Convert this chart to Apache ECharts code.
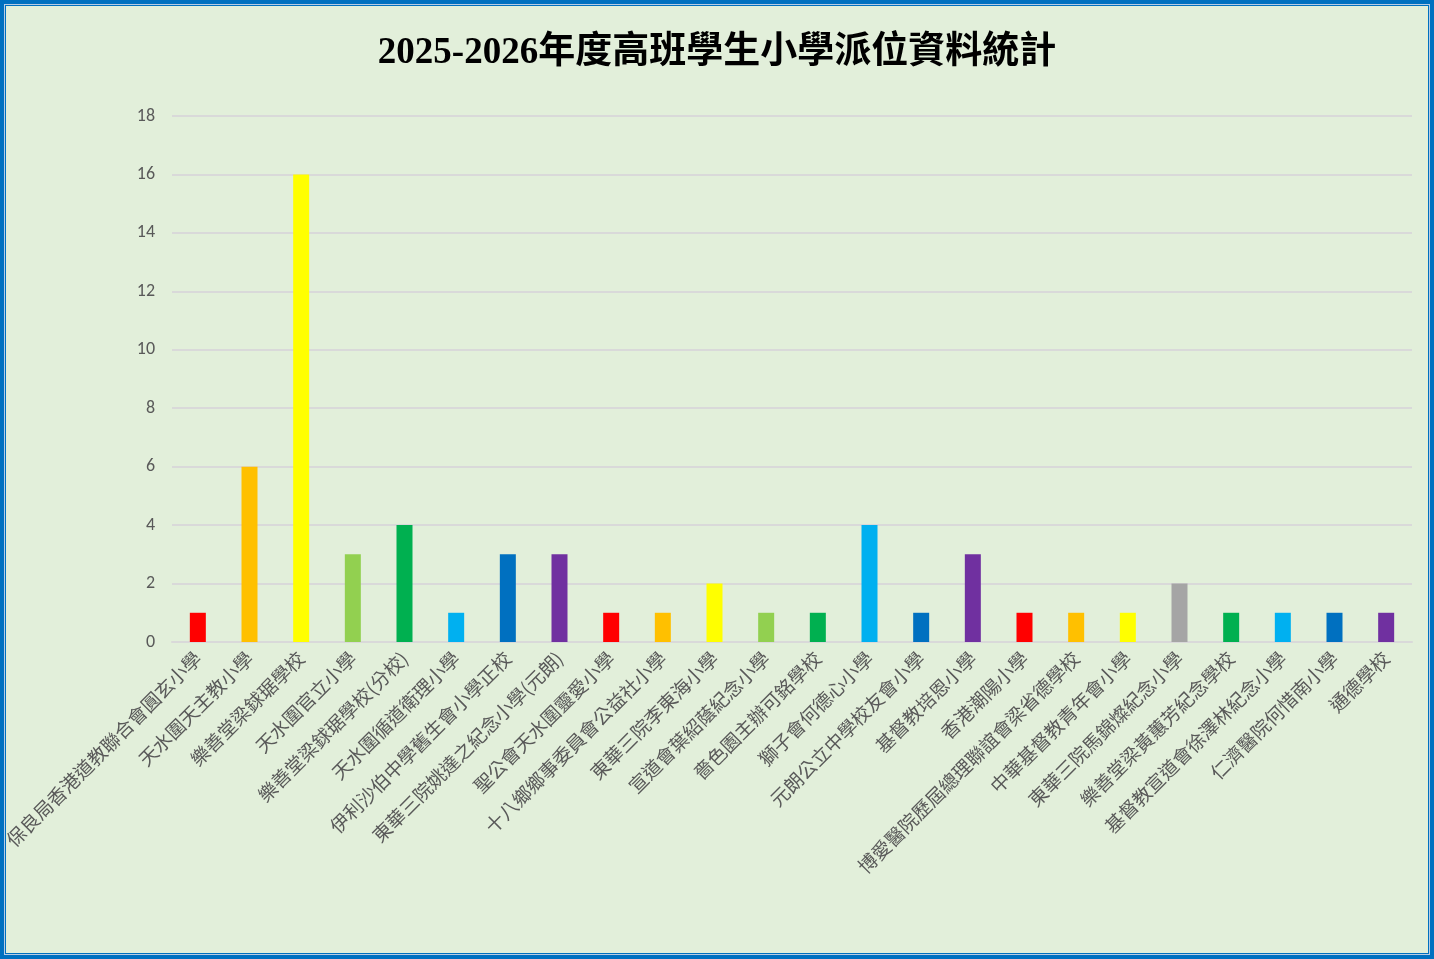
<!doctype html>
<html lang="zh-Hant">
<head>
    <meta charset="UTF-8">
    <title>2025-2026年度高班學生小學派位資料統計</title>
    <style>
        *{margin: 0; padding: 0}
        html, body {width: 1434px; height: 959px; overflow: hidden; background: #0070C0;}
        #frame {
            position: absolute; left: 0; top: 0; width: 1434px; height: 959px;
            box-sizing: border-box; border: 4px solid #0070C0; background: #B8CCE4;
        }
        #inner {
            position: absolute; left: 1px; top: 1px; right: 1px; bottom: 1px;
            border: 1px solid #0070C0; background: #E2EFDA;
        }
        #block {position: absolute; left: -6px; top: -6px; width: 1434px; height: 959px;}
    </style>
</head>
<body>
<div id="frame"><div id="inner"><div id="block"></div></div></div>

<script src="https://cdn.jsdelivr.net/npm/echarts@6/dist/echarts.min.js"></script>
<script>
    // 資料
    const schools = [
        '保良局香港道教聯合會圓玄小學', '天水圍天主教小學', '樂善堂梁銶琚學校', '天水圍官立小學',
        '樂善堂梁銶琚學校(分校)', '天水圍循道衛理小學', '伊利沙伯中學舊生會小學正校', '東華三院姚達之紀念小學(元朗)',
        '聖公會天水圍靈愛小學', '十八鄉鄉事委員會公益社小學', '東華三院李東海小學', '宣道會葉紹蔭紀念小學',
        '嗇色園主辦可銘學校', '獅子會何德心小學', '元朗公立中學校友會小學', '基督教培恩小學',
        '香港潮陽小學', '博愛醫院歷屆總理聯誼會梁省德學校', '中華基督教青年會小學', '東華三院馬錦燦紀念小學',
        '樂善堂梁黃蕙芳紀念學校', '基督教宣道會徐澤林紀念小學', '仁濟醫院何惜南小學', '通德學校'
    ];
    const counts = [1, 6, 16, 3, 4, 1, 3, 3, 1, 1, 2, 1, 1, 4, 1, 3, 1, 1, 1, 2, 1, 1, 1, 1];
    const barColors = [
        '#FF0000', '#FFC000', '#FFFF00', '#92D050', '#00B050', '#00B0F0', '#0070C0', '#7030A0',
        '#FF0000', '#FFC000', '#FFFF00', '#92D050', '#00B050', '#00B0F0', '#0070C0', '#7030A0',
        '#FF0000', '#FFC000', '#FFFF00', '#A5A5A5', '#00B050', '#00B0F0', '#0070C0', '#7030A0'
    ];
    const titleText = '2025-2026年度高班學生小學派位資料統計';
</script>
<script>
    const chart = echarts.init(document.getElementById('block'));
    chart.setOption({
        animation: false,
        title: {
            text: titleText,
            left: 'center',
            top: 30,
            textStyle: {
                fontFamily: '"Liberation Serif", "Noto Sans CJK TC", serif',
                fontSize: 37,
                fontWeight: 'bold',
                color: '#000000'
            }
        },
        grid: {left: 172, right: 22, top: 116, bottom: 317, containLabel: false},
        xAxis: {
            type: 'category',
            data: schools,
            axisLine: {lineStyle: {color: '#D9D9D9', width: 2}},
            axisTick: {show: false},
            axisLabel: {
                interval: 0,
                rotate: 45,
                margin: 13,
                color: '#595959',
                fontSize: 19,
                fontFamily: '"Noto Sans CJK TC", sans-serif'
            }
        },
        yAxis: {
            type: 'value',
            min: 0,
            max: 18,
            interval: 2,
            axisLine: {show: false},
            axisTick: {show: false},
            splitLine: {lineStyle: {color: '#D9D9D9', width: 2}},
            axisLabel: {
                margin: 17,
                color: '#595959',
                fontSize: 18,
                fontFamily: 'Carlito, "Open Sans", sans-serif'
            }
        },
        series: [{
            type: 'bar',
            barWidth: 16,
            data: counts.map((v, i) => ({value: v, itemStyle: {color: barColors[i]}}))
        }]
    });
</script>
</body>
</html>
